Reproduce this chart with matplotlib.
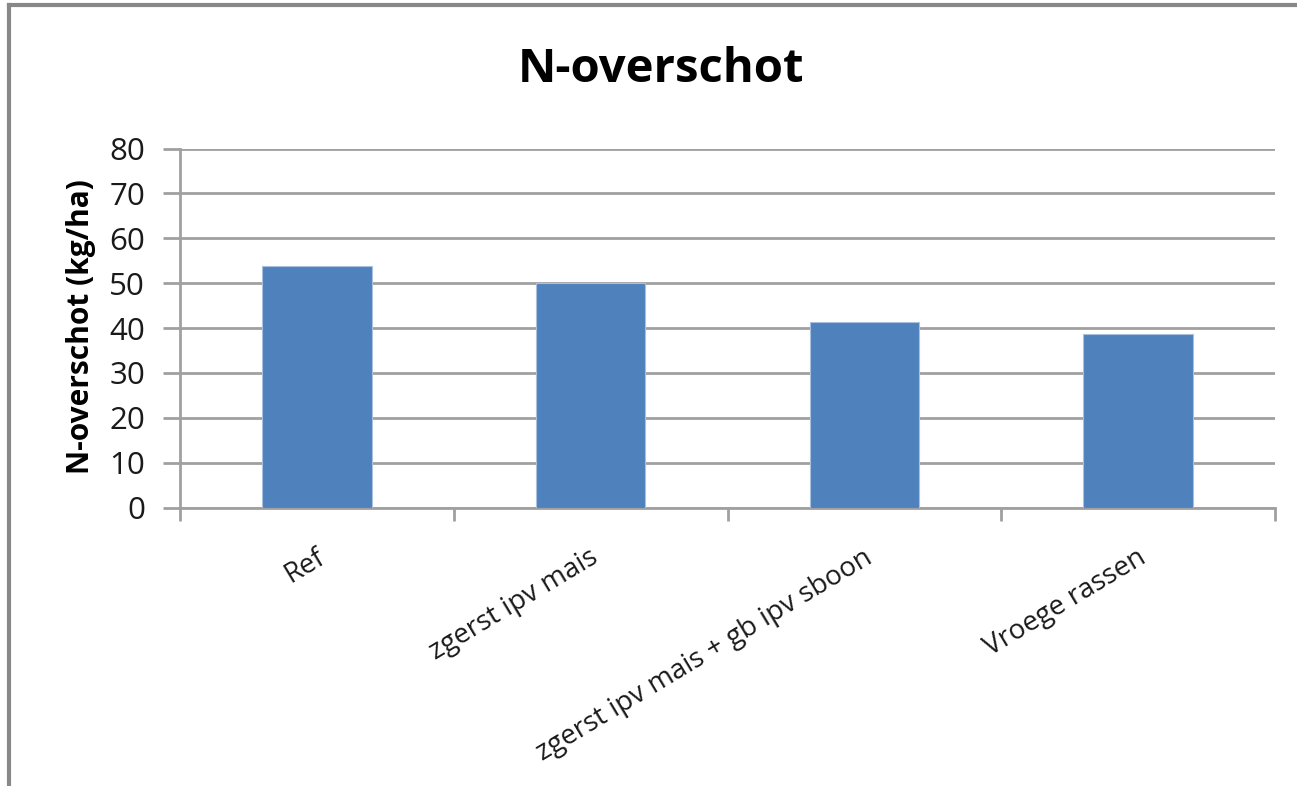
import matplotlib
matplotlib.use("Agg")
import matplotlib.pyplot as plt
from matplotlib.lines import Line2D

categories = ["Ref", "zgerst ipv mais", "zgerst ipv mais + gb ipv sboon", "Vroege rassen"]
values = [53.8, 50.0, 41.3, 38.7]
yticks = [0, 10, 20, 30, 40, 50, 60, 70, 80]

FONT = "Open Sans"
GRID = "#a0a0a0"
W, H = 1297, 786

fig = plt.figure(figsize=(W / 100, H / 100), dpi=100)
ax = fig.add_axes([180 / W, 1 - 507.5 / H, (1275 - 180) / W, (507.5 - 148.5) / H])

x = list(range(len(categories)))
ax.bar(x, values, width=0.4, color="#4f81bd", edgecolor="#a9c1df", linewidth=0.8, zorder=3)

ax.set_xlim(-0.5, len(categories) - 0.5)
ax.set_ylim(0, 80)
ax.set_yticks(yticks)
ax.set_yticklabels([str(v) for v in yticks], fontsize=22.5, family=FONT, color="#1a1a1a")
ax.yaxis.grid(True, color=GRID, linewidth=2)
ax.set_axisbelow(True)

for s in ["top", "right"]:
    ax.spines[s].set_visible(False)
for s in ["left", "bottom"]:
    ax.spines[s].set_color(GRID)
    ax.spines[s].set_linewidth(2)

ax.tick_params(axis="y", length=12, width=2, color=GRID, direction="out", pad=13)
# category boundary ticks on the x axis
ax.set_xticks([i - 0.5 for i in range(len(categories) + 1)])
ax.set_xticklabels([])
ax.tick_params(axis="x", length=9, width=2, color=GRID, direction="out")

for i, lab in enumerate(categories):
    ax.annotate(lab, xy=(i, 0), xycoords=("data", "axes fraction"),
                xytext=(6.5, -39), textcoords="offset points",
                rotation=31, rotation_mode="anchor", ha="right", va="baseline",
                fontsize=20, family=FONT, color="#1a1a1a")

fig.text(81 / W, 1 - 327 / H, "N-overschot (kg/ha)", rotation=90, ha="center", va="center",
         fontsize=21.5, fontweight="bold", family=FONT)

fig.text(661 / W, 1 - 69 / H, "N-overschot", ha="center", va="center",
         fontsize=34, fontweight="bold", family=FONT)

# outer chart frame (top and left edges)
fig.add_artist(Line2D([8.5 / W, 1.0], [1 - 4.5 / H, 1 - 4.5 / H], color="#888888", linewidth=3, transform=fig.transFigure))
fig.add_artist(Line2D([8.5 / W, 8.5 / W], [0.0, 1 - 4.5 / H], color="#888888", linewidth=3, transform=fig.transFigure))

fig.savefig("out.png", dpi=100, facecolor="white")
